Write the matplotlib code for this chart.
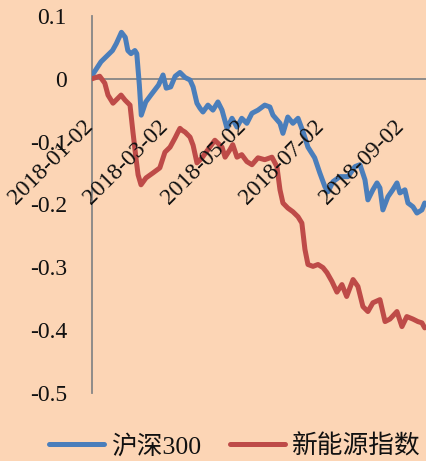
import numpy as np
import matplotlib
matplotlib.use("Agg")
import matplotlib.pyplot as plt
from matplotlib.transforms import ScaledTranslation

plt.rcParams['font.family'] = ['Liberation Serif', 'Noto Sans CJK SC']

start_date = np.datetime64('2018-01-02')

series_names = ['沪深300', '新能源指数']

hs300_days = [0, 7, 11, 16, 19, 23, 26, 28, 30.5, 33.5, 35, 37, 38.5, 42, 46, 52, 55.5, 58,
              61.5, 65, 68.75, 72.7, 76.6, 79, 82, 84.4, 86.7, 90.6, 94.5, 98.4, 101.6, 105.5,
              109.4, 113.3, 117, 121, 125, 129.7, 135, 139, 141.4, 146.9, 149.2, 153, 157, 161,
              165, 168.75, 174, 178, 182, 184.4, 188.3, 193.75, 200, 205.5, 209.4, 213.3, 215.6,
              219.5, 222.7, 225, 227.3, 231.25, 235, 238.3, 240.6, 244.5, 246.9, 250.8, 253.9,
              257.8, 260]
hs300_values = [0.005, 0.027, 0.035, 0.045, 0.056, 0.074, 0.066, 0.045, 0.040, 0.045, 0.040,
                -0.010, -0.058, -0.037, -0.026, -0.010, 0.006, -0.015, -0.013, 0.004, 0.010,
                0.002, -0.002, -0.013, -0.039, -0.047, -0.053, -0.042, -0.050, -0.037, -0.050,
                -0.079, -0.063, -0.077, -0.063, -0.071, -0.055, -0.050, -0.042, -0.045, -0.058,
                -0.071, -0.087, -0.061, -0.071, -0.063, -0.085, -0.109, -0.126, -0.150, -0.172,
                -0.180, -0.164, -0.156, -0.156, -0.140, -0.137, -0.161, -0.193, -0.177, -0.166,
                -0.174, -0.209, -0.188, -0.177, -0.166, -0.182, -0.177, -0.198, -0.204, -0.214,
                -0.209, -0.198]

ne_days = [0, 6, 10, 12.5, 16.4, 20.3, 22.7, 25.8, 29.7, 32, 34.4, 36, 38.3, 42.2, 47.7, 53,
           57, 61, 65, 67.2, 68.75, 70.3, 72.7, 76.6, 79, 82, 86, 90.6, 96, 101.6, 104, 107.8,
           110, 113.3, 117, 121, 125, 129.7, 135, 140.6, 144.5, 146.9, 149.2, 153, 157, 161,
           164, 166.4, 168.75, 172.7, 176.6, 180.5, 183.6, 187.5, 191.4, 195.3, 199, 204, 207.8,
           211.7, 215.6, 219.5, 225, 229, 232.8, 238.3, 242.2, 246, 250.8, 254.7, 257.8, 260]
ne_values = [0.0, 0.004, -0.007, -0.026, -0.039, -0.031, -0.026, -0.034, -0.042, -0.085,
             -0.127, -0.153, -0.169, -0.158, -0.150, -0.142, -0.117, -0.109, -0.094, -0.085,
             -0.079, -0.082, -0.085, -0.093, -0.106, -0.134, -0.126, -0.113, -0.098, -0.109,
             -0.125, -0.113, -0.105, -0.125, -0.121, -0.132, -0.137, -0.126, -0.129, -0.125,
             -0.140, -0.177, -0.198, -0.206, -0.212, -0.220, -0.230, -0.272, -0.296, -0.299,
             -0.296, -0.301, -0.309, -0.323, -0.340, -0.328, -0.347, -0.320, -0.331, -0.363,
             -0.371, -0.357, -0.352, -0.387, -0.383, -0.371, -0.395, -0.379, -0.383, -0.387,
             -0.389, -0.397]

xtick_labels = ['2018-01-02', '2018-03-02', '2018-05-02', '2018-07-02', '2018-09-02']
ytick_values = [-0.5, -0.4, -0.3, -0.2, -0.1, 0.0, 0.1]
ytick_labels = ['-0.5', '-0.4', '-0.3', '-0.2', '-0.1', '0', '0.1']

bg = '#FCD5B5'
blue = '#4A7EBB'
red = '#BE4B48'
gray = '#868686'

def to_dates(days):
    return start_date + (np.array(days) * 24 * 3600).astype('timedelta64[s]')

fig = plt.figure(figsize=(4.27, 4.61), dpi=100, facecolor=bg)
ax = fig.add_axes([92/427, 1 - 392.5/461, 334/427, 376.5/461])
ax.set_facecolor(bg)

l1, = ax.plot(to_dates(hs300_days), hs300_values, color=blue, lw=3.6, zorder=3,
              solid_joinstyle='round', solid_capstyle='round')
l2, = ax.plot(to_dates(ne_days), ne_values, color=red, lw=3.6, zorder=3,
              solid_joinstyle='round', solid_capstyle='round')

ax.set_ylim(-0.5, 0.1)
ax.set_xlim(start_date, start_date + np.timedelta64(261, 'D'))

ax.set_yticks(ytick_values)
ax.set_yticklabels(ytick_labels)
ax.set_xticks([np.datetime64(d) for d in xtick_labels])
ax.set_xticklabels(xtick_labels)

for s in ['top', 'right']:
    ax.spines[s].set_visible(False)
ax.spines['bottom'].set_position(('data', 0))
for s in ['left', 'bottom']:
    ax.spines[s].set_color(gray)
    ax.spines[s].set_linewidth(1.3)
    ax.spines[s].set_zorder(1)

ax.tick_params(axis='y', length=0, pad=18, labelsize=17, labelcolor='#111111')
ax.tick_params(axis='x', length=0, pad=27, labelsize=17, labelcolor='#111111',
               labelrotation=45)
ax.xaxis.set_zorder(4)
for lab in ax.get_xticklabels():
    lab.set_ha('right')
    lab.set_va('top')
    lab.set_transform(lab.get_transform() + ScaledTranslation(5/100, 0, fig.dpi_scale_trans))

leg = fig.legend([l1, l2], series_names, ncol=2, loc='center',
                 bbox_to_anchor=(0.55, 0.032), frameon=False, fontsize=18.5,
                 handlelength=2.15, handletextpad=0.28, columnspacing=1.1,
                 borderpad=0, borderaxespad=0)
for t in leg.get_texts():
    t.set_color('#111111')

fig.savefig('out.png', dpi=100, facecolor=bg)
